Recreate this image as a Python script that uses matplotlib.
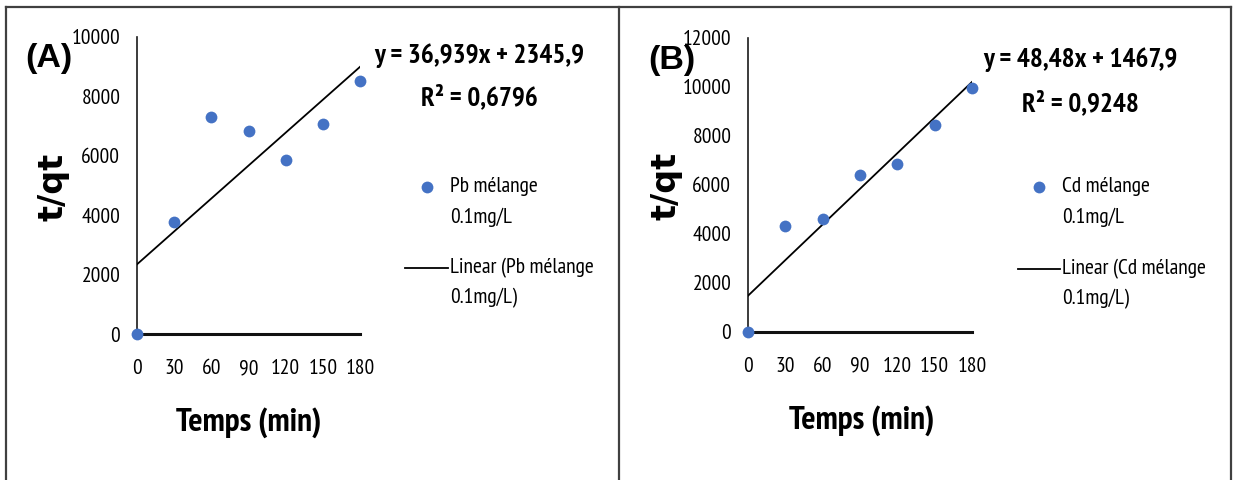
import matplotlib
matplotlib.use("Agg")
import matplotlib.pyplot as plt
from matplotlib.lines import Line2D
import numpy as np

# ---- data -------------------------------------------------------------
time_min = [0, 30, 60, 90, 120, 150, 180]
pb_t_qt = [0, 3760, 7300, 6840, 5860, 7070, 8510]
cd_t_qt = [0, 4330, 4610, 6400, 6850, 8440, 9950]

pb_slope, pb_intercept, pb_r2 = 36.939, 2345.9, 0.6796
cd_slope, cd_intercept, cd_r2 = 48.48, 1467.9, 0.9248

x_ticks = [0, 30, 60, 90, 120, 150, 180]
pb_y_ticks = [0, 2000, 4000, 6000, 8000, 10000]
cd_y_ticks = [0, 2000, 4000, 6000, 8000, 10000, 12000]

# ---- figure -----------------------------------------------------------
W, H = 1235, 480
fig = plt.figure(figsize=(W / 100, H / 100), dpi=100)
fig.patch.set_facecolor("white")

NARROW = ["PT Sans Narrow", "DejaVu Sans"]
BOLD = ["Liberation Sans", "DejaVu Sans"]
BLUE = "#4472C4"


def fx(px):
    return px / W


def fy(py):
    return 1 - py / H


def frame_line(x0, y0, x1, y1):
    fig.add_artist(Line2D([fx(x0), fx(x1)], [fy(y0), fy(y1)],
                          color="#404040", lw=1.6, transform=fig.transFigure))


# outer frame and divider
frame_line(6, 7, 1231, 7)
frame_line(6, 7, 6, 480)
frame_line(619, 7, 619, 480)
frame_line(1231, 7, 1231, 480)


def panel(left, right, zero_y, top_y, ymax, yticks, ydata, slope, intercept, r2,
          tag, tag_xy, ylab_xy, xlab_xy, eq_x, eq_y, r2_y, leg, metal):
    ax = fig.add_axes([fx(left), fy(zero_y), fx(right) - fx(left),
                       (zero_y - top_y) / H])
    ax.set_xlim(0, 180)
    ax.set_ylim(0, ymax)
    ax.set_facecolor("none")
    for s in ("top", "right"):
        ax.spines[s].set_visible(False)
    ax.spines["left"].set_color("#1a1a1a")
    ax.spines["left"].set_linewidth(1.2)
    ax.spines["bottom"].set_color("#111111")
    ax.spines["bottom"].set_linewidth(2.2)
    ax.set_xticks(x_ticks)
    ax.set_yticks(yticks)
    ax.set_xticklabels([str(v) for v in x_ticks], family=NARROW, fontsize=15.5)
    ax.set_yticklabels([str(v) for v in yticks], family=NARROW, fontsize=15.5)
    ax.tick_params(axis="x", length=0, pad=18)
    ax.tick_params(axis="y", length=0, pad=12)

    xs = np.array([0, 180])
    ax.plot(xs, slope * xs + intercept, color="black", lw=1.3, zorder=3)
    ax.scatter(time_min, ydata, s=72, color=BLUE, zorder=5, clip_on=False,
               linewidths=0)

    fig.text(fx(tag_xy[0]), fy(tag_xy[1]), tag, family=BOLD, weight="bold",
             fontsize=24.5, ha="center", va="center")
    fig.text(fx(ylab_xy[0]), fy(ylab_xy[1]), "t/qt", family=["DejaVu Sans"],
             weight="bold", fontsize=24, rotation=90, ha="center", va="center")
    fig.text(fx(xlab_xy[0]), fy(xlab_xy[1]), "Temps (min)", family=NARROW,
             weight="bold", fontsize=24, ha="center", va="center")

    sign = "+" if intercept >= 0 else "-"
    eq = "y = {}x {} {}".format(f"{slope:g}".replace(".", ","), sign,
                                f"{abs(intercept):g}".replace(".", ","))
    fig.text(fx(eq_x), fy(eq_y), eq, family=NARROW, weight="bold",
             fontsize=19.5, ha="center", va="center")
    fig.text(fx(eq_x), fy(r2_y), "R² = " + f"{r2:g}".replace(".", ","),
             family=NARROW, weight="bold", fontsize=19.5, ha="center",
             va="center")

    # legend entries
    mx, my, tx, lx0, lx1, ly = leg
    fig.add_artist(Line2D([fx(mx)], [fy(my)], marker="o", markersize=8.5,
                          color=BLUE, markeredgewidth=0, linestyle="none",
                          transform=fig.transFigure))
    fig.text(fx(tx), fy(my), f"{metal} mélange", family=NARROW, fontsize=15.5,
             ha="left", va="center")
    fig.text(fx(tx), fy(my + 30), "0.1mg/L", family=NARROW, fontsize=15.5,
             ha="left", va="center")
    fig.add_artist(Line2D([fx(lx0), fx(lx1)], [fy(ly), fy(ly)], color="black",
                          lw=1.3, transform=fig.transFigure))
    fig.text(fx(tx), fy(ly), f"Linear ({metal} mélange", family=NARROW,
             fontsize=15.5, ha="left", va="center")
    fig.text(fx(tx), fy(ly + 30), "0.1mg/L)", family=NARROW, fontsize=15.5,
             ha="left", va="center")
    return ax


panel(137, 360, 334, 37, 10000, pb_y_ticks, pb_t_qt, pb_slope, pb_intercept,
      pb_r2, "(A)", (49, 59), (53, 187), (249, 423), 479, 56, 97,
      (427, 187, 450, 405, 448, 268), "Pb")

panel(748, 972, 331.7, 37.7, 12000, cd_y_ticks, cd_t_qt, cd_slope,
      cd_intercept, cd_r2, "(B)", (672, 60), (666, 186), (862, 421), 1080, 60,
      103, (1039, 187, 1062, 1018, 1060, 269), "Cd")

fig.savefig("out.png", dpi=100, facecolor="white")
